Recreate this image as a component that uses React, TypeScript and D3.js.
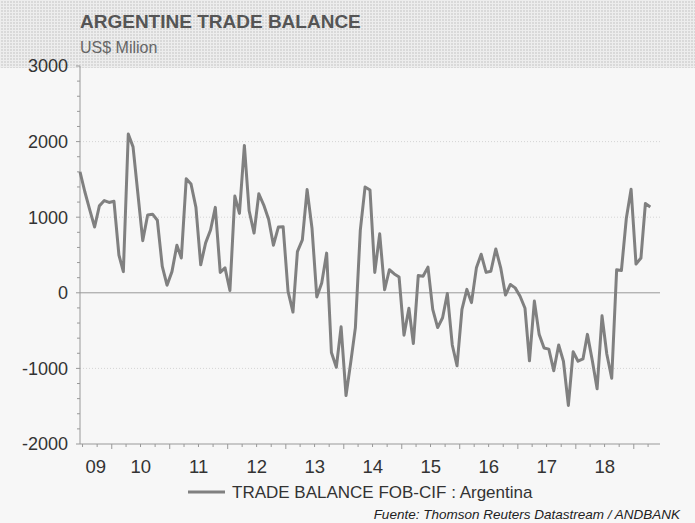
import React from "react";
import * as d3 from "d3";

// monthly trade balance, US$ million, starting June 2009
const startMonth = new Date(2009, 5, 15);
const balance = [
  1600, 1340, 1100, 870, 1150, 1220, 1195, 1210, 500, 280,
  2100, 1930, 1300, 690, 1030, 1040, 960, 350, 100, 280,
  630, 460, 1510, 1440, 1130, 370, 660, 830, 1130, 270,
  330, 30, 1280, 1050, 1950, 1085, 790, 1310, 1160, 970,
  630, 870, 875, 20, -255, 545, 700, 1365, 850, -55,
  130, 525, -790, -985, -450, -1360, -900, -460, 830, 1400,
  1360, 270, 780, 40, 305, 250, 210, -560, -205, -670,
  230, 220, 340, -220, -460, -330, -10, -690, -965, -220,
  45, -130, 330, 510, 270, 285, 580, 330, -30, 110,
  65, -45, -205, -900, -110, -550, -730, -745, -1030, -690,
  -905, -1490, -780, -905, -875, -550, -900, -1270, -305, -810,
  -1130, 305, 295, 985, 1370, 380, 460, 1180, 1135,
];
const yearLabels = ["09", "10", "11", "12", "13", "14", "15", "16", "17", "18"];
const yTicks = [3000, 2000, 1000, 0, -1000, -2000];
const seriesName = "TRADE BALANCE FOB-CIF : Argentina";

const W = 695;
const H = 523;
const font = "'Liberation Sans', Arial, sans-serif";

const App = () => {
  const left = 80, right = 660, top = 66, bottom = 444;

  const data = balance.map((v, i) => ({ date: d3.timeMonth.offset(startMonth, i), value: v }));

  const x = d3.scaleTime()
    .domain([new Date(2009, 5, 15), new Date(2019, 5, 15)])
    .range([left, right]);
  const y = d3.scaleLinear().domain([-2000, 3000]).range([bottom, top]);

  const line = d3.line<any>()
    .x(d => x(d.date))
    .y(d => y(d.value));

  const [d0, d1] = x.domain();
  const quarterTicks = d3.timeMonth.every(3)!.range(d0, d1);
  const minorY = d3.range(-2000, 3001, 200);

  return (
    <div style={{ position: "absolute", left: 0, top: 0 }}>
      <svg width={W} height={H} style={{ display: "block" }}>
        <defs>
          <pattern id="hatch" width="3" height="3" patternUnits="userSpaceOnUse">
            <rect width="3" height="3" fill="#d9d9d9" />
            <rect width="3" height="1" fill="#ededed" />
            <rect width="1" height="3" fill="#ededed" />
          </pattern>
        </defs>
        <rect width={W} height={H} fill="#f7f7f7" />
        <rect width={W} height={68} fill="url(#hatch)" />

        <text x={80} y={28} fontFamily={font} fontSize={19} fontWeight="bold" fill="#555">
          ARGENTINE TRADE BALANCE
        </text>
        <text x={80} y={53} fontFamily={font} fontSize={16} fill="#666">
          US$ Milion
        </text>

        {/* grid */}
        {[2000, 1000, -1000].map(t => (
          <line key={t} x1={left} x2={right} y1={y(t)} y2={y(t)}
            stroke="#d4d4d4" strokeDasharray="1,2" />
        ))}
        <line x1={left} x2={right} y1={y(0)} y2={y(0)} stroke="#999" strokeWidth={1} />

        {/* y axis */}
        <line x1={left} x2={left} y1={top} y2={bottom} stroke="#999" />
        {minorY.map(t => (
          <line key={t} x1={left - (t % 1000 === 0 ? 4 : 3)} x2={left} y1={y(t)} y2={y(t)} stroke="#999" />
        ))}
        {yTicks.map(t => (
          <text key={t} x={68} y={y(t)} dy="0.35em" textAnchor="end"
            fontFamily={font} fontSize={18} fill="#333">{t}</text>
        ))}

        {/* x axis */}
        <line x1={left} x2={right} y1={bottom} y2={bottom} stroke="#999" />
        {quarterTicks.map((d, i) => (
          <line key={i} x1={x(d)} x2={x(d)} y1={bottom}
            y2={bottom + (d.getMonth() === 0 ? 5 : 3)} stroke="#999" />
        ))}
        {yearLabels.map(lbl => {
          const yr = 2000 + +lbl;
          const a = d3.max([new Date(yr, 0, 1), d0]) as Date;
          const b = new Date(yr + 1, 0, 1);
          return (
            <text key={lbl} x={(x(a) + x(b)) / 2} y={473} textAnchor="middle"
              fontFamily={font} fontSize={18.5} fill="#333">{lbl}</text>
          );
        })}

        <path d={line(data) || ""} fill="none" stroke="#808080" strokeWidth={3}
          strokeLinejoin="round" />

        {/* legend */}
        <line x1={188} x2={225} y1={492} y2={492} stroke="#808080" strokeWidth={3} />
        <text x={232} y={498} fontFamily={font} fontSize={17} fill="#333">{seriesName}</text>

        <text x={680} y={519} textAnchor="end" fontFamily={font} fontSize={13.5}
          fontStyle="italic" fill="#222">
          Fuente: Thomson Reuters Datastream / ANDBANK
        </text>
      </svg>
    </div>
  );
};

export default App;
